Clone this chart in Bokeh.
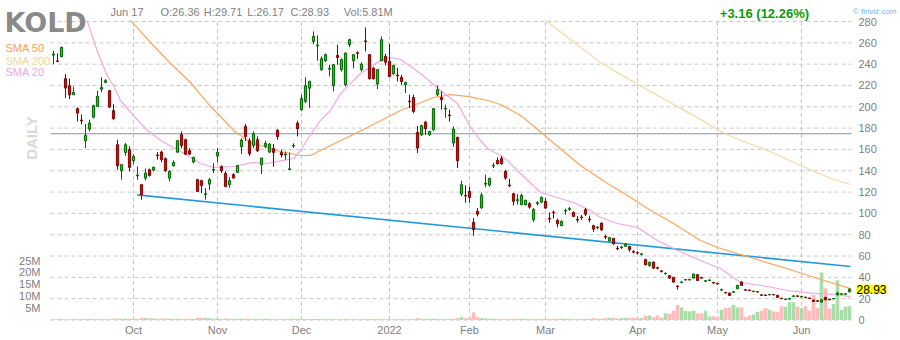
import math
from bokeh.plotting import figure
from bokeh.models import Range1d, Label, ColumnDataSource
from bokeh.core.properties import value
from bokeh.embed import file_html
from bokeh.resources import INLINE

# ---------------- data (trading-day index 1..200, Sep 2 2021 .. Jun 17 2022) ----------------
month_idx = [21, 42, 63, 85, 105, 124, 147, 167, 188]
month_labels = ["Oct", "Nov", "Dec", "2022", "Feb", "Mar", "Apr", "May", "Jun"]
price_ticks = [0, 20, 40, 60, 80, 100, 120, 140, 160, 180, 200, 220, 240, 260, 280]
vol_ticks = [5, 10, 15, 20, 25]
vol_tick_labels = ["5M", "10M", "15M", "20M", "25M"]

open_ = [
    248.5, 243, 247, 226.4, 219.8, 211.3, 198.2, 187.5, 168.2, 179.1, 190.3, 200.4, 216.5, 223, 215.1, 196.3, 164.4, 140, 157.2, 159.8,
    149.4, 135.2, 126.9, 133.1, 141, 140.6, 154.8, 157.5, 151.3, 133.1, 144.7, 157.5, 173.8, 169.1, 158.8, 148.2, 131.6, 130.7, 117.8, 127.5, 140.6,
    153.8, 143.8, 137.5, 126.9, 136.3, 138.5, 162.6, 181.6, 168.2, 163.8, 169.1, 145.7, 162.9, 157.5, 160.7, 177.9, 157, 154.8, 141.2, 163.2, 184.7,
    197.3, 205.1, 217.5, 261.4, 257.2, 234.8, 243.2, 235.3, 220, 248.2, 234.8, 220.7, 258.3, 243.2, 250.8, 234.8, 261.8, 248.9, 236.3, 221.3, 243.2, 247.3,
    242.6, 231, 229.8, 227.6, 220.7, 205.3, 208.8, 176, 173.8, 185.6, 173.8, 178.5, 211.4, 208.8, 197.9, 192.3, 166, 171.3, 118.1, 116.9,
    120.6, 91.6, 101.9, 105.3, 127.5, 126.6, 144.4, 149.7, 151.3, 139.4, 126.6, 118.5, 112.2, 108.2, 108.2, 109.1, 94.1, 109.4, 110.6,
    111.3, 95.3, 101.2, 93.4, 88.5, 102.2, 103.8, 100.9, 94.4, 96.6, 103.5, 94.7, 88.5, 86.6, 90.9, 78.3, 74.1, 76.5, 67.3, 68, 69.2, 69, 64.2,
    63.2, 61.5, 56.6, 51, 54.3, 49, 46, 43.4, 41.6, 40, 31.8, 35.2, 37.6, 37.6, 39.3, 42.5, 39.8, 36.3, 37, 35.2,
    34.3, 28, 25.8, 25.2, 26, 29.4, 35.6, 28.4, 28, 26.6, 26.2, 23.6, 23.4, 23.6, 24, 23.1, 20.4, 19.2, 19.6, 22.2, 22.6,
    21.6, 21.4, 20.6, 18.6, 18, 16.8, 21.2, 19.4, 19.8, 23.7, 24.2, 24.2, 26.36,
]
high = [
    252.6, 250, 256.5, 230.7, 226.4, 219, 199.4, 192.9, 183.8, 187.9, 202, 215, 227.6, 226, 215.5, 202.5, 169.1, 146, 166, 162.9,
    155.6, 144.1, 127.5, 142, 142, 144, 157.5, 159, 152.5, 140.5, 149.7, 168.5, 176.9, 170, 161.3, 153.2, 132.5, 131.6, 123.7, 133.1, 147.2,
    161.3, 145, 139.4, 134, 137.8, 145.5, 170.5, 184, 170.5, 176.9, 172.2, 152, 168.2, 166, 165, 179.1, 159.8, 158, 157, 165.7, 187,
    211.4, 227.6, 224.5, 270.7, 267, 247.3, 250, 239.5, 240, 258.3, 245.5, 251, 264, 249.5, 252, 241.7, 274.5, 249.5, 237, 235.5, 266, 249.5,
    259, 239.5, 236.3, 230, 223.5, 211.4, 211.4, 182, 183.2, 186.8, 177.5, 199, 219.8, 214.5, 202, 197.3, 181.6, 172, 130.7, 126.3,
    125, 95.6, 105, 119.5, 136.3, 133.5, 147.5, 152.5, 153.8, 141, 132.5, 119.2, 118.1, 118.5, 113, 110.6, 105, 111.5, 116,
    114.4, 100.9, 102.8, 95, 93.4, 104.4, 106, 102, 97.5, 98.5, 105, 98, 89.4, 88, 91.5, 80, 78, 77, 69.5, 69.5, 71.5, 69.5, 65.5,
    64.5, 63, 57.5, 55, 55, 50, 46.8, 44.6, 42, 40.5, 32.5, 36.5, 38.5, 38.5, 43.5, 43, 40.5, 37.5, 38, 35.8,
    34.8, 29.5, 26.3, 25.8, 27, 33, 36.5, 29, 28.6, 27.5, 27.2, 24, 23.8, 24.4, 24.4, 23.6, 20.8, 20, 20.4, 23, 23,
    22.6, 21.8, 21, 19, 18.4, 19.5, 21.8, 19.8, 20.6, 26.5, 25, 25, 29.71,
]
low = [
    240, 242, 246.5, 208.3, 207.2, 211, 186.3, 183.5, 161.3, 176.9, 189, 200, 213.5, 222, 199, 187.9, 141, 131.6, 154, 139.4,
    146, 131.6, 112.9, 131, 134.5, 139.5, 150.4, 148, 139, 130, 143.8, 156.6, 161, 154.8, 154.8, 147, 120, 119, 112.9, 122, 137.8,
    148, 137.8, 124.5, 124, 133, 138, 155.6, 167.8, 153.8, 161.3, 157.5, 136.9, 161.3, 156.6, 143.8, 169.1, 152.5, 150.4, 141.2, 161.3, 172.2,
    196, 203.5, 199, 258.8, 243.2, 233.9, 242, 228.5, 214.5, 239.5, 233, 219, 256, 236, 245, 233, 252, 225.5, 225.5, 216.6, 242.6, 238.8,
    227.6, 230, 223.8, 220.7, 212.9, 199, 194, 156.6, 172.5, 173.8, 172.8, 177.5, 210, 197.3, 189.7, 186, 162.5, 142.5, 116, 110,
    110, 79.1, 97.2, 104, 124.5, 125, 142.5, 145.7, 145.7, 131.6, 124.5, 107.5, 108.2, 107.5, 107.5, 104.4, 91.9, 107.5, 109.7,
    104.4, 91.3, 95.3, 87, 88, 98.8, 102.5, 96.5, 91.3, 94, 97.5, 91.6, 82.8, 85, 83.5, 75.8, 73.5, 70.5, 65.5, 66.5, 68.5, 64, 62.5,
    61.5, 60.5, 51.2, 50, 48, 47.5, 44.6, 42.5, 38.8, 35, 28.4, 34.5, 37, 37, 39, 36.5, 38.8, 35.8, 36.6, 34,
    33.2, 27.8, 24.9, 22.7, 25.5, 29, 32, 27.5, 27.2, 26.2, 25.8, 22.8, 22.6, 23.2, 23.2, 20.8, 19.6, 18.8, 19.2, 21.8, 21.8,
    21.2, 20.6, 19.8, 17, 17.2, 16.5, 18.6, 18.6, 19.4, 23.2, 23.8, 23.8, 26.17,
]
close = [
    249.5, 242.5, 255.7, 217.6, 211.3, 213.5, 194.1, 186.8, 173.1, 184.7, 201, 209.8, 218, 224.5, 199.7, 188.8, 144.7, 145.7, 164.4, 143.2,
    153.5, 136, 117.5, 137.8, 135.6, 143.2, 154.2, 150.4, 140, 139.4, 147.8, 168.2, 163.8, 155.6, 155.6, 152.5, 120.6, 126.3, 118.4, 131.6, 141.2,
    157.2, 140, 125.3, 130.7, 133.1, 144.7, 168.8, 172.2, 156, 174.8, 158.8, 151.9, 165.7, 165, 157.2, 172.2, 154.8, 155.6, 141.8, 163.8, 179.4,
    207.6, 219.8, 223.8, 266, 258, 245.1, 248.9, 236, 239.5, 246.3, 244.2, 250.4, 262.9, 248.9, 250.2, 240, 261.2, 226.4, 226.4, 234.8, 262.9, 241.9,
    228.5, 238.8, 229.2, 223.8, 222.9, 204.7, 195.7, 161.3, 182.3, 179.5, 176.9, 198.2, 216, 206.7, 198.5, 191.7, 179.1, 149.4, 126.9, 116.3,
    115, 84.7, 99.3, 117.2, 128.2, 132.8, 145, 146.6, 146.6, 133.1, 126, 111.3, 112.8, 116.9, 112.2, 105.9, 103.5, 110, 115,
    105, 94.7, 100.6, 90.3, 92.5, 102.8, 104.4, 97.2, 93.8, 96, 99.3, 94.1, 85.3, 87.2, 84.7, 77.7, 77.2, 71.6, 66.8, 68.5, 71.2, 66, 63.7,
    62.8, 62, 51.9, 54, 48.7, 48.6, 45.6, 43.8, 39.3, 35.6, 31.3, 35.6, 38, 38, 43.1, 37.1, 39.3, 36.8, 37.5, 34.7,
    33.8, 28.4, 25.4, 23.1, 26.5, 32.5, 32.5, 28, 27.6, 27, 26.7, 23.2, 23, 24, 23.6, 21.2, 20, 19.6, 20, 22.6, 22.2,
    22, 21, 20.2, 17.4, 17.6, 19, 19, 19, 20.2, 25.2, 24.6, 24.6, 28.93,
]
volume_m = [
    0.3, 0.3, 0.4, 0.3, 0.3, 0.3, 0.3, 0.4, 0.4, 0.4, 0.3, 0.3, 0.3, 0.3, 0.3, 0.5, 0.6, 0.5, 0.5, 0.6,
    0.4, 0.4, 0.9, 0.8, 0.7, 0.6, 0.5, 0.5, 0.6, 0.5, 0.4, 0.4, 0.4, 0.5, 0.5, 0.4, 1.0, 0.9, 0.8, 0.7, 0.5,
    0.5, 0.4, 0.6, 0.5, 0.4, 0.4, 0.5, 0.6, 0.5, 0.4, 0.4, 0.4, 0.5, 0.4, 0.3, 0.4, 0.4, 0.4, 0.3, 0.5, 0.4,
    0.4, 0.4, 0.3, 0.4, 0.4, 0.3, 0.3, 0.3, 0.4, 0.3, 0.3, 0.4, 0.3, 0.3, 0.3, 0.3, 0.4, 0.4, 0.4, 0.3, 0.4, 0.3,
    0.3, 0.3, 0.3, 0.3, 0.3, 0.4, 0.4, 0.8, 0.5, 0.4, 0.4, 0.5, 0.4, 0.4, 0.3, 0.4, 0.5, 0.8, 1.2, 0.8,
    1.0, 3.2, 1.2, 0.8, 0.7, 0.5, 0.5, 0.4, 0.5, 0.5, 0.4, 0.5, 0.4, 0.5, 0.4, 0.4, 0.4, 0.3, 0.4,
    0.4, 0.5, 0.5, 0.5, 0.5, 0.5, 0.4, 0.4, 0.4, 0.4, 0.4, 0.5, 0.8, 0.5, 0.5, 0.8, 0.9, 1.0, 0.6, 0.8, 0.9, 1.0, 0.9,
    0.7, 0.8, 1.8, 1.9, 1.2, 1.9, 1.0, 2.8, 2.6, 3.9, 6.3, 5.3, 3.9, 3.6, 3.9, 2.8, 2.8, 3.9, 1.5, 1.5,
    1.2, 4.3, 5.0, 5.3, 6.3, 5.3, 5.3, 1.2, 1.9, 2.3, 3.4, 3.9, 5.0, 4.3, 3.6, 3.4, 5.8, 5.6, 7.4, 7.4, 5.6,
    5.0, 5.8, 3.9, 10.5, 5.0, 20.0, 13.3, 4.8, 6.7, 16.7, 4.3, 5.6, 5.81,
]

sma20_idx = [9.4, 11.9, 14.4, 16, 17.75, 21, 24.5, 27.75, 31, 34.5, 37.75, 41, 46, 51, 54.5, 58.5, 61, 62.75, 65.25,
             67.75, 70.25, 72.75, 77.75, 82.75, 85.25, 87.75, 92.75, 97.75, 102, 105.25, 107.75, 109.5, 112.75, 114.5,
             117.75, 122.75, 131, 135.25, 137.75, 142, 147, 152, 157, 162.75, 167.75, 172.75, 179.5, 184.5, 191, 196, 200.25]
sma20_val = [281.0, 252.8, 229.4, 220.0, 205.9, 191.8, 177.8, 168.4, 161.8, 154.3, 146.8, 143.1, 144.0, 147.8, 146.8,
             149.8, 151.5, 159.0, 174.0, 187.2, 196.5, 212.4, 231.2, 243.4, 246.2, 244.4, 231.2, 215.3, 203.1, 180.6, 168.4,
             160.9, 154.3, 149.6, 137.4, 119.6, 110.2, 102.7, 96.2, 90.5, 86.8, 74.6, 65.2, 55.8, 48.3, 35.2, 31.4, 27.7,
             24.9, 24.0, 22.0]
sma50_idx = [20.25, 25.25, 30.25, 35.25, 37.75, 40.25, 42.75, 46, 50.25, 54.5, 57.75, 62.75, 65.25, 70.25, 79.5,
             87.75, 96, 100.25, 104.5, 109.5, 112.75, 117.75, 121.5, 125.25, 132.75, 139.5, 144.5, 149.5, 156, 162.75,
             167, 175.25, 183.5, 192, 200.25]
sma50_val = [281.0, 260.3, 240.6, 222.8, 211.5, 200.3, 190.9, 177.8, 166.5, 161.8, 158.1, 154.3, 154.3, 163.7, 180.6,
             196.5, 208.7, 211.5, 209.7, 205.9, 202.2, 191.8, 180.6, 168.4, 145.0, 128.0, 116.8, 104.6, 90.5, 74.6,
             68.0, 58.6, 49.2, 38.9, 29.5]
sma200_idx = [124, 137.75, 145.25, 162.75, 167.75, 172.75, 179.5, 187.75, 196, 200.25]
sma200_val = [281.0, 241.6, 224.8, 188.2, 176.9, 168.5, 159.1, 145.0, 131.8, 127.1]

trend_idx = [21.9, 200.25]
trend_val = [117.4, 50.2]
level_val = 174.7

# ---------------- layout: one frame covering the whole 900x340 canvas ----------------
W, H = 900, 340
PX_PER_DAY = 4.0
X_OF_DAY0 = 49.0          # canvas x of day index 0
Y_OF_ZERO = 319.5         # canvas y of price 0 / volume 0
PX_PER_PRICE = 1.066
PX_PER_VOL = 2.38
PLOT_LEFT, PLOT_RIGHT = 50, 851   # chart area (canvas px)

def dx(px):
    return (px - X_OF_DAY0) / PX_PER_DAY

def dy(py):
    return (Y_OF_ZERO - py) / PX_PER_PRICE

def dv(py):
    return (Y_OF_ZERO - py) / PX_PER_VOL

FONT = "Liberation Sans"
GRAY = "#808080"

p = figure(width=W, height=H, output_backend="svg", toolbar_location=None,
           x_range=Range1d(dx(0), dx(W)), y_range=Range1d(dy(H), dy(0)),
           x_axis_location=None, y_axis_location=None,
           min_border=0, outline_line_color=None,
           background_fill_color="white", border_fill_color="white")
p.extra_y_ranges = {"vol": Range1d(dv(H), dv(0))}
p.xgrid.visible = False
p.ygrid.visible = False

x_left, x_right = dx(PLOT_LEFT), dx(PLOT_RIGHT)
top_price = price_ticks[-1]

# dashed grid
p.segment(x0=[x_left] * len(price_ticks), y0=price_ticks, x1=[x_right] * len(price_ticks), y1=price_ticks,
          line_color="#c8c8c8", line_dash="4 3", line_width=1)
p.segment(x0=month_idx, y0=[0] * len(month_idx), x1=month_idx, y1=[top_price] * len(month_idx),
          line_color="#c8c8c8", line_dash="4 3", line_width=1)

# candles & volume
days = list(range(1, len(close) + 1))
up = [c >= o for o, c in zip(open_, close)]
src = ColumnDataSource(dict(
    d=days, o=open_, h=high, l=low, c=close, v=volume_m,
    top=[max(o, c) for o, c in zip(open_, close)],
    bot=[min(o, c) for o, c in zip(open_, close)],
    fill=["#00e000" if u else "#ee0000" for u in up],
    edge=["#006400" if u else "#800000" for u in up],
    vcol=["#a9dea9" if u else "#ffbcbc" for u in up],
))

p.vbar(x="d", top="v", bottom=0, width=0.92, fill_color="vcol", line_color=None, y_range_name="vol", source=src)

p.segment(x0=[x_left], y0=[level_val], x1=[x_right], y1=[level_val], line_color="#8a8ad0", line_width=1.2)
p.line(trend_idx, trend_val, line_color="#2199dc", line_width=1.6)
p.line(sma200_idx, sma200_val, line_color="#f2dcaa", line_width=1.2)
p.line(sma50_idx, sma50_val, line_color="#ffa55a", line_width=1.2)
p.line(sma20_idx, sma20_val, line_color="#f0a8e6", line_width=1.2)

p.segment(x0="d", y0="l", x1="d", y1="h", line_color="edge", line_width=1, source=src)
p.vbar(x="d", top="top", bottom="bot", width=0.55, fill_color="fill", line_color="edge", line_width=1, source=src)

# axis tick labels (drawn through the data scales)
p.text(x=[dx(858)] * len(price_ticks), y=price_ticks, text=[str(t) for t in price_ticks],
       text_font=value(FONT), text_font_size="11px", text_color=GRAY, text_align="left", text_baseline="middle")
p.text(x=[dx(40)] * len(vol_ticks), y=vol_ticks, text=vol_tick_labels, y_range_name="vol",
       text_font=value(FONT), text_font_size="11px", text_color=GRAY, text_align="right", text_baseline="middle")
p.text(x=month_idx, y=[dy(329)] * len(month_idx), text=month_labels,
       text_font=value(FONT), text_font_size="11px", text_color=GRAY, text_align="center", text_baseline="middle")

# texts
def lab(px, py, text, size, color, bold=False, font=FONT, align="left", baseline="alphabetic", angle=0.0):
    p.add_layout(Label(x=dx(px), y=dy(py), text=text, text_font=font, text_font_size=size, text_color=color,
                       text_font_style="bold" if bold else "normal", text_align=align,
                       text_baseline=baseline, angle=angle))

lab(4, 21.7, "KOLD", "27px", "#8a8a8a", bold=True, font="DejaVu Sans")
lab(110, 11.7, "Jun 17", "11px", GRAY)
lab(160, 11.7, "O:26.36", "11px", GRAY)
lab(203.3, 11.7, "H:29.71", "11px", GRAY)
lab(246.7, 11.7, "L:26.17", "11px", GRAY)
lab(290, 11.7, "C:28.93", "11px", GRAY)
lab(343.3, 11.7, "Vol:5.81M", "11px", GRAY)
lab(719.3, 13.3, "+3.16 (12.26%)", "13px", "#0b9a0b", bold=True)
lab(896, 10.5, "\u00a9 finviz.com", "8px", "#6fb4e8", align="right")
lab(5, 47.7, "SMA 50", "11px", "#ffa055")
lab(5, 60, "SMA 200", "11px", "#f0d898")
lab(5, 71.7, "SMA 20", "11px", "#f0a8e0")
lab(31, 137.5, "DAILY", "15px", "#d9d9d9", bold=True, align="center", baseline="middle", angle=math.pi / 2)

price_lbl = Label(x=dx(856), y=close[-1], text="28.93", text_font=FONT, text_font_size="12px",
                  text_color="black", text_align="left", text_baseline="middle",
                  background_fill_color="#ffff00")
p.add_layout(price_lbl)

open("out.html", "w").write(file_html(p, INLINE))
